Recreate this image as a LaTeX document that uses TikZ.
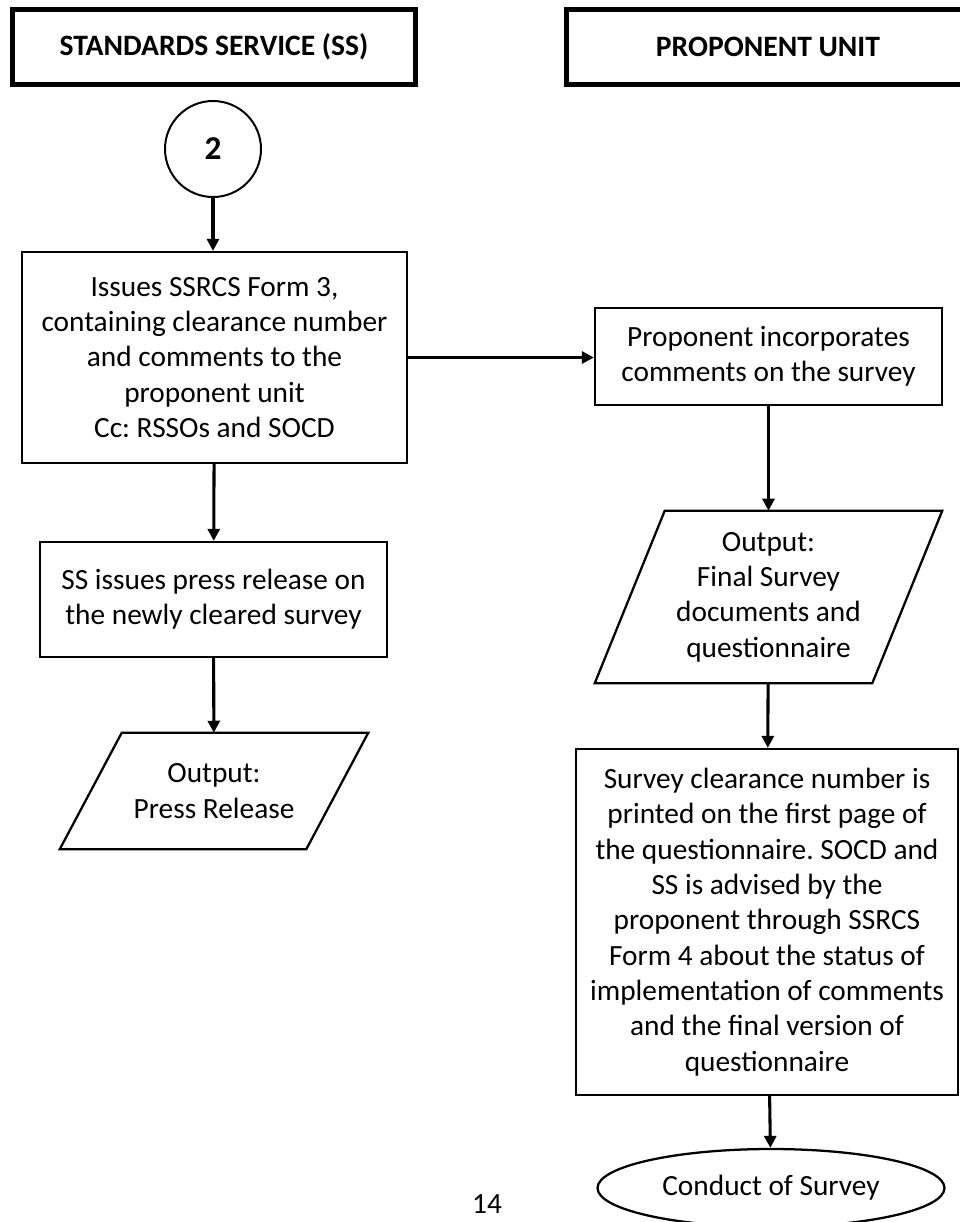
\documentclass[tikz,border=0pt]{standalone}
\usepackage{fontspec}
\setmainfont{Carlito}
\usetikzlibrary{arrows.meta,positioning,shapes.geometric}
\newcommand\bodyfont{\fontsize{22}{26.5}\selectfont}
\tikzset{
  >={Triangle[length=9pt,width=9pt]},
  hdr/.style={draw, line width=3.75pt, minimum width=302pt, minimum height=56pt,
              font=\fontsize{22.2}{26}\selectfont\bfseries},
  proc/.style={draw, line width=1.7pt, align=center, inner sep=0pt, font=\bodyfont},
  io/.style={align=center, inner sep=0pt, font=\bodyfont},
  iobox/.style={draw, line width=1.7pt, line join=miter},
  conn/.style={circle, draw, line width=1.5pt, minimum size=72pt, inner sep=0pt,
              font=\fontsize{25}{28}\selectfont\bfseries},
  term/.style={ellipse, draw, line width=1.7pt, inner sep=0pt, font=\bodyfont},
  flow/.style={->, line width=2.3pt},
}
\frenchspacing
\begin{document}
\begin{tikzpicture}[x=0.75pt,y=-0.75pt]
  \useasboundingbox (0,0) rectangle (960,1222);
  % lane headers
  \node[hdr] (hdrSS) at (214,47) {STANDARDS SERVICE (SS)};
  \node[hdr] (hdrPU) at (768,47) {PROPONENT UNIT};
  % standards service lane
  \node[conn] (c2) at (213,149) {2};
  \node[proc, minimum width=288.75pt, minimum height=158.25pt] (issue) at (214.5,357.5)
       {Issues SSRCS Form 3,\\containing clearance number\\and comments to the\\proponent unit\\Cc: RSSOs and SOCD};
  \node[proc, minimum width=260.25pt, minimum height=86.25pt] (press) at (213.5,599.5)
       {SS issues press release on\\the newly cleared survey};
  \node[io, minimum width=184.5pt, minimum height=87pt] (outPress) at (214,791)
       {Output:\\Press Release};
  % proponent lane
  \node[proc, minimum width=260.25pt, minimum height=72.75pt] (incorp) at (768.5,356.5)
       {Proponent incorporates\\comments on the survey};
  \node[io, minimum width=207.75pt, minimum height=129pt] (outFinal) at (768.5,597)
       {Output:\\Final Survey\\documents and\\questionnaire};
  \node[proc, minimum width=286.5pt, minimum height=259.5pt] (printed) at (767,922)
       {Survey clearance number is\\printed on the first page of\\the questionnaire. SOCD and\\SS is advised by the\\proponent through SSRCS\\Form 4 about the status of\\implementation of comments\\and the final version of\\questionnaire};
  \node[term, minimum width=260.25pt, minimum height=58.5pt] (conduct) at (771,1188)
       {Conduct of Survey};
  \node[font=\fontsize{22}{24}\selectfont] (pgno) at (487,1204) {14};
  % output parallelograms
  \draw[iobox] ([xshift=23.25pt]outPress.north west) -- ([xshift=23.25pt]outPress.north east)
       -- ([xshift=-23.25pt]outPress.south east) -- ([xshift=-23.25pt]outPress.south west) -- cycle;
  \draw[iobox] ([xshift=26.25pt]outFinal.north west) -- ([xshift=26.25pt]outFinal.north east)
       -- ([xshift=-26.25pt]outFinal.south east) -- ([xshift=-26.25pt]outFinal.south west) -- cycle;
  % connectors
  \draw[flow] (c2.south) -- (c2.south |- issue.north);
  \draw[flow] (issue) -- (press);
  \draw[flow] (press) -- (outPress);
  \draw[flow] (issue.east) -- (incorp.west |- issue.east);
  \draw[flow] (incorp) -- (outFinal);
  \draw[flow] (outFinal) -- (printed);
  \draw[flow] (printed) -- (conduct);
\end{tikzpicture}
\end{document}
